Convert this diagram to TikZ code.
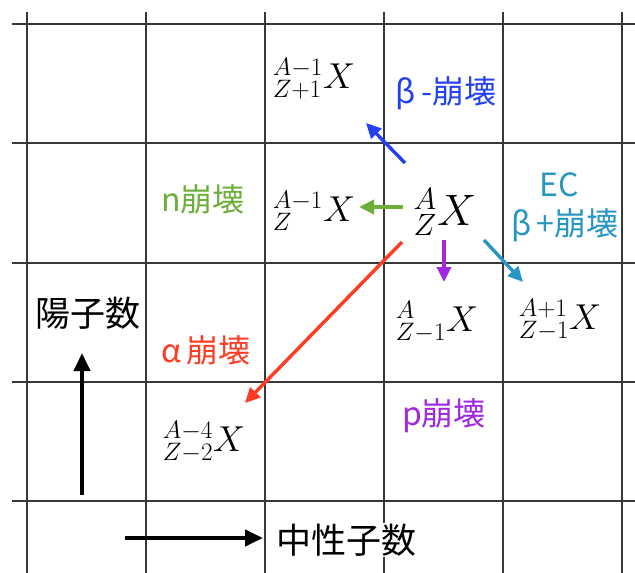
\RequirePackage{fix-cm}
\documentclass[tikz,border=0pt]{standalone}
\usepackage{fontspec}
\newfontfamily\jp{Noto Sans CJK JP}
\usetikzlibrary{arrows.meta}
\definecolor{cblue}{RGB}{35,65,240}
\definecolor{cgreen}{RGB}{110,175,60}
\definecolor{cteal}{RGB}{40,150,195}
\definecolor{cpurple}{RGB}{160,40,225}
\definecolor{cred}{RGB}{255,60,35}
\begin{document}
\begin{tikzpicture}[x=1pt,y=-1pt,
  gridline/.style={draw=black!78, line width=1.8pt},
  nuc/.style={inner sep=0pt, font=\fontsize{36}{42}\selectfont},
  lbl/.style={inner sep=1pt, font=\jp\fontsize{32}{38}\selectfont},
  big/.style={inner sep=1pt, font=\jp\fontsize{35}{40}\selectfont},
  decay/.style={line width=3.4pt, -{Triangle[length=15pt,width=14pt]}},
  axisarrow/.style={line width=4pt, black, -{Triangle[length=18pt,width=16pt]}}]
\useasboundingbox (0,0) rectangle (635,573);
\fill[white] (0,0) rectangle (635,573);
\foreach \x in {26.7,145.7,264.7,384,503,622} \draw[gridline] (\x,12) -- (\x,573);
\foreach \y in {24,143,263,382,501} \draw[gridline] (12,\y) -- (635,\y);
% nuclides
\node[nuc] (n1) at (314,79) {${}^{A-1}_{Z+1}X$};
\node[nuc] (n2) at (314,211) {${}^{A-1}_{Z}X$};
\node[nuc, font=\fontsize{44}{50}\selectfont] (n0) at (445,212) {${}^{A}_{Z}X$};
\node[nuc] (n3) at (437,322) {${}^{A}_{Z-1}X$};
\node[nuc] (n4) at (560,320) {${}^{A+1}_{Z-1}X$};
\node[nuc] (n5) at (204,442) {${}^{A-4}_{Z-2}X$};
% labels
\node[lbl, text=cblue] (lb) at (446,93) {β\,-崩壊};
\node[lbl, text=cteal] (lec) at (559,185) {EC};
\node[lbl, text=cteal] (lbp) at (565,225) {β\,+崩壊};
\node[lbl, text=cgreen] (ln) at (203,199) {n崩壊};
\node[lbl, text=cred] (la) at (206,350) {α\,崩壊};
\node[lbl, text=cpurple] (lp) at (444,416) {p崩壊};
\node[big] (lz) at (88,313) {陽子数};
\node[big, fill=white] (lnn) at (346,540) {中性子数};
% arrow end points
\coordinate (bT) at (405,163); \coordinate (bH) at (366,123);
\coordinate (gT) at (403,207); \coordinate (gH) at (359,207);
\coordinate (pT) at (444,240); \coordinate (pH) at (444,282);
\coordinate (tT) at (484,240); \coordinate (tH) at (523,282);
\coordinate (rT) at (402,242); \coordinate (rH) at (245,403);
\coordinate (uT) at (82,495);  \coordinate (uH) at (82,353);
\coordinate (hT) at (125,538); \coordinate (hH) at (263,538);
\draw[decay, cblue] (bT) -- (bH);
\draw[decay, cgreen] (gT) -- (gH);
\draw[decay, cpurple] (pT) -- (pH);
\draw[decay, cteal] (tT) -- (tH);
\draw[decay, cred] (rT) -- (rH);
\draw[axisarrow] (uT) -- (uH);
\draw[axisarrow] (hT) -- (hH);
\end{tikzpicture}
\end{document}
